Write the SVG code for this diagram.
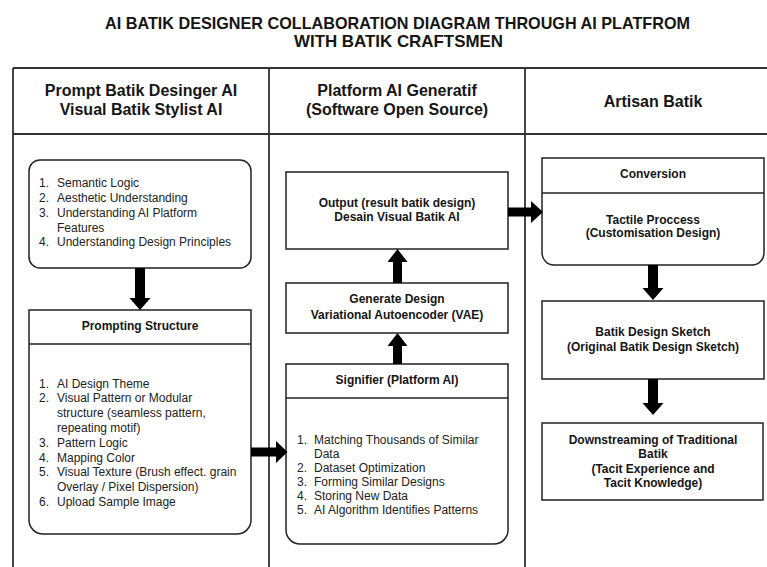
<svg xmlns="http://www.w3.org/2000/svg" width="767" height="567" viewBox="0 0 767 567">
<style>
text{font-family:"Liberation Sans",Arial,Helvetica,sans-serif;fill:#151515}
.title{font-size:17px;font-weight:bold}
.hd{font-size:16px;font-weight:bold;text-anchor:middle}
.b{font-size:12px;font-weight:bold;text-anchor:middle}
.li{font-size:12px;fill:#222}
.grid{stroke:#333;stroke-width:1.8;fill:none}
.box{stroke:#222;stroke-width:1.5;fill:#fff}
.arr{fill:#000}
</style>
<rect width="767" height="567" fill="#fff"/>
<g id="title">
<text class="title" x="105" y="29" textLength="585" lengthAdjust="spacingAndGlyphs">AI BATIK DESIGNER COLLABORATION DIAGRAM THROUGH AI PLATFROM</text>
<text class="title" x="294" y="47" textLength="209" lengthAdjust="spacingAndGlyphs">WITH BATIK CRAFTSMEN</text>
</g>
<g id="table">
<path class="grid" d="M13 68H767M13 134H767M13 68V567M269 68V567M525 68V567"/>
<text class="hd" x="141" y="96">Prompt Batik Desinger AI</text>
<text class="hd" x="141" y="115">Visual Batik Stylist AI</text>
<text class="hd" x="397" y="96">Platform AI Generatif</text>
<text class="hd" x="397" y="115">(Software Open Source)</text>
<text class="hd" x="653" y="107">Artisan Batik</text>
</g>
<g id="knowledge">
<rect class="box" x="29" y="160" width="222" height="108" rx="11"/>
<text class="li" x="39" y="187">1.</text><text class="li" x="57" y="187">Semantic Logic</text>
<text class="li" x="39" y="202">2.</text><text class="li" x="57" y="202">Aesthetic Understanding</text>
<text class="li" x="39" y="217">3.</text><text class="li" x="57" y="217">Understanding AI Platform</text>
<text class="li" x="57" y="232">Features</text>
<text class="li" x="39" y="246">4.</text><text class="li" x="57" y="246">Understanding Design Principles</text>
</g>
<g id="prompting">
<path class="box" d="M29 310H251V520A14 14 0 0 1 237 534H43A14 14 0 0 1 29 520Z"/>
<path class="box" d="M29 344H251"/>
<text class="b" x="140" y="330">Prompting Structure</text>
<text class="li" x="39" y="387.5">1.</text><text class="li" x="57" y="387.5">AI Design Theme</text>
<text class="li" x="39" y="402">2.</text><text class="li" x="57" y="402">Visual Pattern or Modular</text>
<text class="li" x="57" y="417">structure (seamless pattern,</text>
<text class="li" x="57" y="432">repeating motif)</text>
<text class="li" x="39" y="447">3.</text><text class="li" x="57" y="447">Pattern Logic</text>
<text class="li" x="39" y="461.5">4.</text><text class="li" x="57" y="461.5">Mapping Color</text>
<text class="li" x="39" y="476">5.</text><text class="li" x="57" y="476">Visual Texture (Brush effect. grain</text>
<text class="li" x="57" y="491">Overlay / Pixel Dispersion)</text>
<text class="li" x="39" y="505.5">6.</text><text class="li" x="57" y="505.5">Upload Sample Image</text>
</g>
<g id="output">
<rect class="box" x="286" y="172" width="222" height="77"/>
<text class="b" x="397" y="207">Output (result batik design)</text>
<text class="b" x="397" y="221">Desain Visual Batik AI</text>
</g>
<g id="generate">
<rect class="box" x="286" y="283" width="222" height="50"/>
<text class="b" x="397" y="302.5">Generate Design</text>
<text class="b" x="397" y="318.5">Variational Autoencoder (VAE)</text>
</g>
<g id="signifier">
<path class="box" d="M286 364H508V530A14 14 0 0 1 494 544H300A14 14 0 0 1 286 530Z"/>
<path class="box" d="M286 398H508"/>
<text class="b" x="397" y="383.5">Signifier (Platform AI)</text>
<text class="li" x="297" y="443.5">1.</text><text class="li" x="314" y="443.5">Matching Thousands of Similar</text>
<text class="li" x="314" y="457.5">Data</text>
<text class="li" x="297" y="471.5">2.</text><text class="li" x="314" y="471.5">Dataset Optimization</text>
<text class="li" x="297" y="485.5">3.</text><text class="li" x="314" y="485.5">Forming Similar Designs</text>
<text class="li" x="297" y="499.5">4.</text><text class="li" x="314" y="499.5">Storing New Data</text>
<text class="li" x="297" y="514">5.</text><text class="li" x="314" y="514">AI Algorithm Identifies Patterns</text>
</g>
<g id="conversion">
<path class="box" d="M542 158H764V253A12 12 0 0 1 752 265H554A12 12 0 0 1 542 253Z"/>
<path class="box" d="M542 193H764"/>
<text class="b" x="653" y="177.5">Conversion</text>
<text class="b" x="653" y="223.5">Tactile Proccess</text>
<text class="b" x="653" y="237">(Customisation Design)</text>
</g>
<g id="sketch">
<rect class="box" x="542" y="301" width="222" height="78"/>
<text class="b" x="653" y="335.5">Batik Design Sketch</text>
<text class="b" x="653" y="350.5">(Original Batik Design Sketch)</text>
</g>
<g id="downstream">
<rect class="box" x="542" y="423" width="221" height="77"/>
<text class="b" x="653" y="443.5">Downstreaming of Traditional</text>
<text class="b" x="653" y="457.5">Batik</text>
<text class="b" x="653" y="472.5">(Tacit Experience and</text>
<text class="b" x="653" y="486.5">Tacit Knowledge)</text>
</g>
<g id="connectors">
<polygon class="arr" points="135,268 145,268 145,298 150.5,298 140,310 129.5,298 135,298"/>
<polygon class="arr" points="251,447.5 276,447.5 276,441 287.5,452 276,463 276,456.5 251,456.5"/>
<polygon class="arr" points="393,364 402,364 402,346 407.5,346 397.5,333 387.5,346 393,346"/>
<polygon class="arr" points="393,283 402,283 402,262 407.5,262 397.5,249 387.5,262 393,262"/>
<polygon class="arr" points="508,207.5 531,207.5 531,201 543,212 531,223 531,216.5 508,216.5"/>
<polygon class="arr" points="648,265 658,265 658,288 663.5,288 653,300 642.5,288 648,288"/>
<polygon class="arr" points="648,379 658,379 658,403 663.5,403 653,415 642.5,403 648,403"/>
</g>
</svg>
